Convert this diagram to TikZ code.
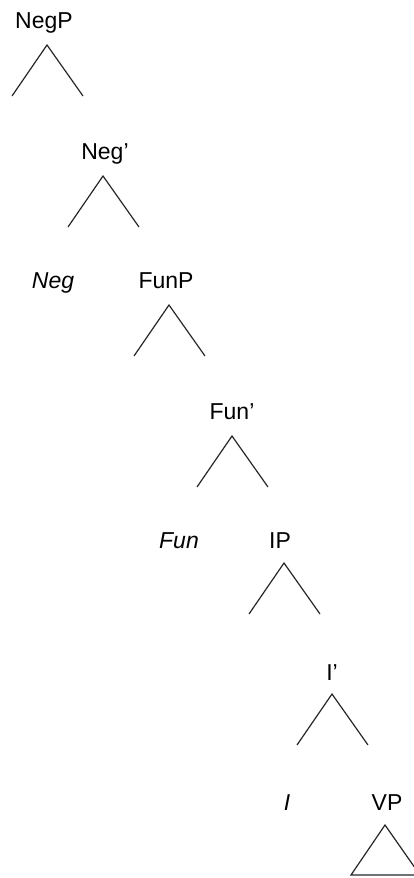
\documentclass[tikz,border=0pt]{standalone}
\usepackage{fontspec}
\setmainfont{Liberation Sans}
\usetikzlibrary{calc}
\usepackage{xcolor}

\begin{document}
\begin{tikzpicture}[x=1pt,y=-1pt,
    cat/.style={inner sep=0pt, anchor=base, font=\fontsize{23}{27}\selectfont},
    head/.style={cat, font=\fontsize{23}{27}\selectfont\itshape},
    branch/.style={line width=1.2pt, black!85, line join=miter}]

        \useasboundingbox (0,0) rectangle (414,878);

        % Labels
        \node[cat] (negp) at (44,28) {NegP};
        \node[cat] (negbar) at (105,159) {Neg’};
        \node[head] (neg) at (53,288) {Neg};
        \node[cat] (funp) at (166,288) {FunP};
        \node[cat] (funbar) at (232,419) {Fun’};
        \node[head] (fun) at (179,548) {Fun};
        \node[cat] (ip) at (280,548) {IP};
        \node[cat] (ibar) at (332,680) {I’};
        \node[head] (i) at (287,810) {I};
        \node[cat] (vp) at (387,810) {VP};

        % Branches
        \foreach \n/\x/\y in {negp/47/45, negbar/103/176, funp/169/305, funbar/232/436, ip/284/563, ibar/332/694}
        {
          \coordinate (\n-top) at (\x,\y);
          \coordinate (\n-l) at ($(\n-top)+(-35,51)$);
          \coordinate (\n-r) at ($(\n-top)+(36,51)$);
          \draw[branch] (\n-l) -- (\n-top) -- (\n-r);
        }

        % VP triangle
        \coordinate (vp-top) at (385,825);
        \coordinate (vp-l) at ($(vp-top)+(-34,50)$);
        \coordinate (vp-r) at ($(vp-top)+(35,50)$);
        \draw[branch] (vp-top) -- (vp-l) -- (vp-r) -- cycle;
    \end{tikzpicture}
\end{document}
